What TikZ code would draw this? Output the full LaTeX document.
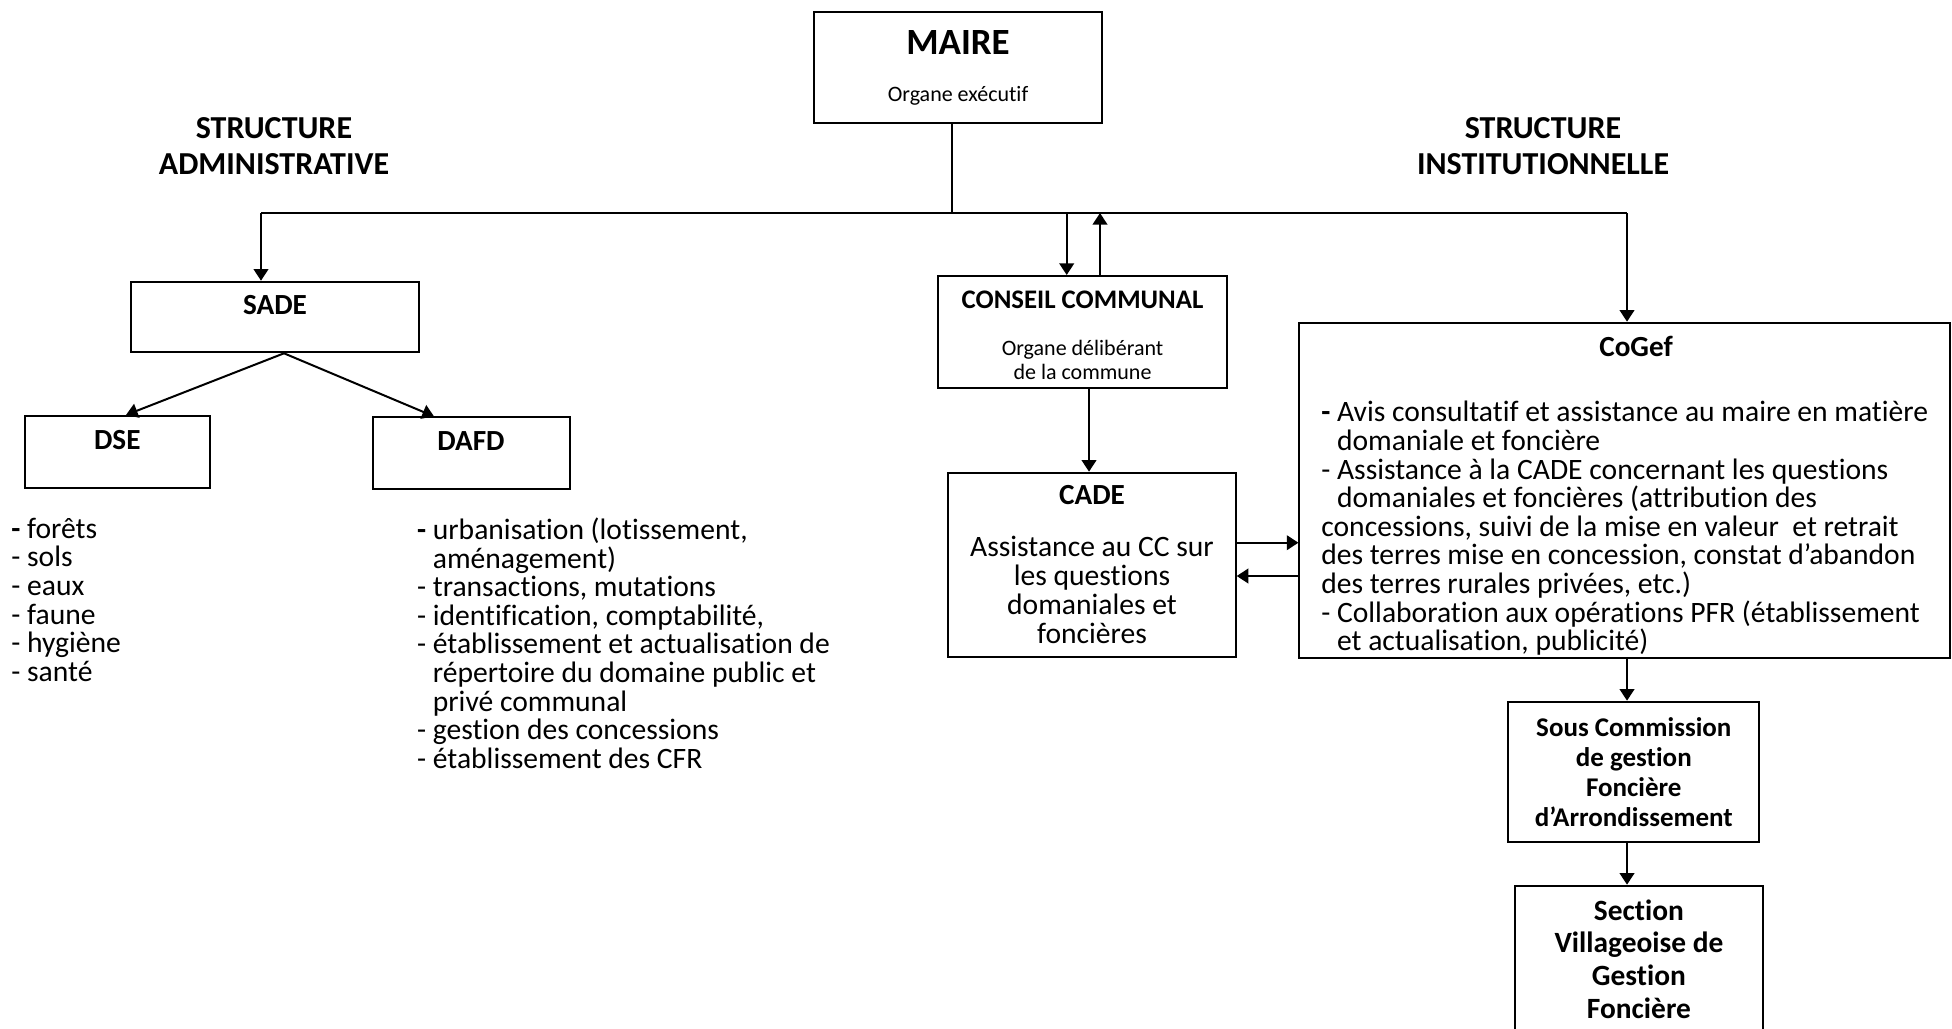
\documentclass[tikz,border=0pt]{standalone}
\usepackage{fontspec}
\setmainfont[Ligatures=NoCommon]{Carlito}
\usetikzlibrary{arrows.meta,positioning,calc}
\newcommand{\orgtitle}{\fontsize{14.6}{16}\selectfont\bfseries}
\newcommand{\orgnote}{\fontsize{11}{12}\selectfont}
\newcommand{\orgbody}{\fontsize{14.8}{14.3}\selectfont}
\newcommand{\orgindent}{\phantom{-\ }}
\tikzset{
  orgbox/.style={draw=black, line width=1pt, align=center, inner sep=0pt,
    font=\orgbody},
  headbox/.style={orgbox, font=\orgtitle, text height=9.5pt, text depth=11.8pt},
  orgarrow/.style={-{Triangle[length=5.8pt,width=7.3pt]}, line width=1pt},
  orgline/.style={line width=1pt},
  structlabel/.style={align=center, inner sep=0pt,
    font=\fontsize{16}{18}\selectfont\bfseries},
  itemlist/.style={align=left, anchor=north west, inner sep=0pt, font=\orgbody}
}

\begin{document}
\begin{tikzpicture}[x=0.5pt, y=-0.5pt]
  \useasboundingbox (0,0) rectangle (1952,1028);
  \node[orgbox, minimum width=144pt, minimum height=55.5pt, font=\orgnote] (maire) at (958,67.8)
    {{\fontsize{18.5}{20}\selectfont\bfseries MAIRE}\\[11.2pt]Organe exécutif};
  \node[structlabel] (admin) at (274,146) {STRUCTURE\\ADMINISTRATIVE};
  \node[structlabel] (instit) at (1543,146) {STRUCTURE\\INSTITUTIONNELLE};
  \coordinate (busL) at (261,213);
  \coordinate (busR) at (1627,213);

  \node[headbox, minimum width=144pt, minimum height=35.3pt] (sade) at (275,317) {SADE};
  \node[headbox, minimum width=92.4pt, minimum height=35.8pt] (dse) at (117.3,451.8) {DSE};
  \node[headbox, minimum width=98.5pt, minimum height=35.8pt] (dafd) at (471,453.2) {DAFD};
  \node[itemlist] (dselist) at (11,517.5)
    {\textbf{-} forêts\\- sols\\- eaux\\- faune\\- hygiène\\- santé};
  \node[itemlist] (dafdlist) at (416.7,517.5)
    {\textbf{-} urbanisation (lotissement,\\\orgindent aménagement)\\- transactions, mutations\\
     - identification, comptabilité,\\- établissement et actualisation de\\
     \orgindent répertoire du domaine public et\\\orgindent privé communal\\
     - gestion des concessions\\- établissement des CFR};

  \node[orgbox, minimum width=144.2pt, minimum height=56.2pt, font=\orgnote] (cc) at (1082.5,332.2)
    {\rule{0pt}{12pt}{\fontsize{13.4}{15}\selectfont\bfseries CONSEIL COMMUNAL}\\[11.55pt]Organe délibérant\\de la commune};
  \node[orgbox, minimum width=143.7pt, minimum height=92pt, font=\fontsize{14.8}{14.6}\selectfont] (cade) at (1092,564.7)
    {{\orgtitle CADE}\\[11.3pt]Assistance au CC sur\\les questions\\domaniales et\\foncières};
  \node[orgbox, align=left, minimum width=325.3pt, minimum height=167.8pt] (cogef) at (1624.7,490.5)
    {\rule{0pt}{15.3pt}\hspace*{139pt}{\orgtitle CoGef}\\[18.5pt]
     \textbf{-} Avis consultatif et assistance au maire en matière\\
     \orgindent domaniale et foncière\\
     - Assistance à la CADE concernant les questions\\
     \orgindent domaniales et foncières (attribution des\\
     concessions, suivi de la mise en valeur\ \ et retrait\\
     des terres mise en concession, constat d’abandon\\
     des terres rurales privées, etc.)\\
     - Collaboration aux opérations PFR (établissement\\
     \orgindent et actualisation, publicité)};
  \node[orgbox, font=\fontsize{13.5}{15}\selectfont\bfseries, minimum width=125.5pt,
    minimum height=70.3pt] (sous) at (1633.8,772)
    {Sous Commission\\de gestion\\Foncière\\d’Arrondissement};
  \node[orgbox, font=\fontsize{14.7}{16.33}\selectfont\bfseries, minimum width=123.8pt,
    minimum height=77.15pt] (section) at (1638.9,962.85)
    {Section\\Villageoise de\\Gestion\\Foncière\\[-12.2pt]\mbox{}};

  \draw[orgline] ([xshift=-3.2pt]maire.south) -- ([xshift=-3.2pt]maire.south |- busL);
  \draw[orgline] (busL) -- (busR);
  \draw[orgarrow] (busL) -- (busL |- sade.north);
  \draw[orgarrow] (busR) -- (busR |- cogef.north);
  \draw[orgarrow] ([xshift=-7.9pt]cc.north |- busL) -- ([xshift=-7.9pt]cc.north);
  \draw[orgarrow] ([xshift=8.75pt]cc.north) -- ([xshift=8.75pt]cc.north |- busL);
  \draw[orgarrow] ([xshift=4.5pt]sade.south) -- ([xshift=4.35pt]dse.north);
  \draw[orgarrow] ([xshift=4.5pt]sade.south) -- ([xshift=-18.5pt]dafd.north);
  \draw[orgarrow] ([xshift=3.25pt]cc.south) -- ([xshift=3.25pt]cc.south |- cade.north);
  \draw[orgarrow] ([yshift=11pt]cade.east) -- ([yshift=11pt]cade.east -| cogef.west);
  \draw[orgarrow] ([yshift=-5.65pt]cade.east -| cogef.west) -- ([yshift=-5.65pt]cade.east);
  \draw[orgarrow] (busR |- cogef.south) -- (busR |- sous.north);
  \draw[orgarrow] (busR |- sous.south) -- (busR |- section.north);
\end{tikzpicture}
\end{document}
